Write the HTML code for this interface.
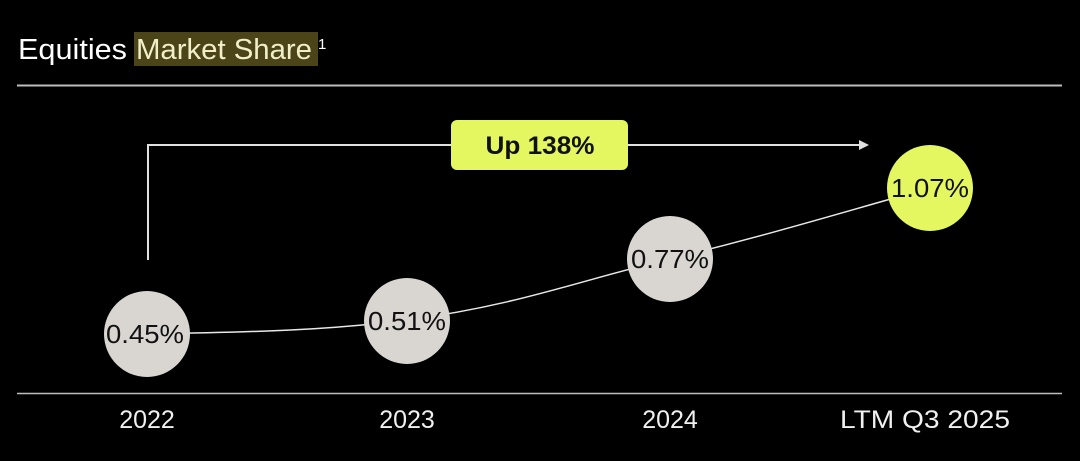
<!DOCTYPE html>
<html><head><style>
body{margin:0;background:#000;width:1080px;height:456px;overflow:hidden;font-family:"Liberation Sans",sans-serif}
</style></head><body>
<svg width="1080" height="456" viewBox="0 0 1080 456" xmlns="http://www.w3.org/2000/svg">
<rect width="1080" height="456" fill="#000"/>
<rect x="134" y="32" width="184" height="34" fill="#4a4418"/>
<text x="18" y="59" font-family="Liberation Sans, sans-serif" font-size="29" fill="#fff" textLength="109" lengthAdjust="spacingAndGlyphs">Equities</text>
<text x="136" y="59" font-family="Liberation Sans, sans-serif" font-size="29" fill="#f2eec8" textLength="176" lengthAdjust="spacingAndGlyphs">Market Share</text>
<text x="318" y="49" font-size="15" fill="#fff">1</text>
<line x1="17" y1="85.5" x2="1062" y2="85.5" stroke="#bdbdbd" stroke-width="2"/>
<line x1="17" y1="393.5" x2="1062" y2="393.5" stroke="#bdbdbd" stroke-width="1.5"/>
<polyline points="148,260 148,145 860,145" fill="none" stroke="#e0e0e0" stroke-width="2"/>
<polygon points="869,145 859,140 859,150" fill="#e0e0e0"/>
<rect x="451" y="120" width="177" height="50" rx="6" fill="#e4f760"/>
<text x="540" y="154" text-anchor="middle" font-size="25" font-weight="bold" fill="#111" textLength="109" lengthAdjust="spacingAndGlyphs">Up 138%</text>
<path d="M147,334 C260,332 330,330 407,320 C520,305 580,280 670,259 C780,232 850,210 930,188" fill="none" stroke="#e8e8e8" stroke-width="1.5"/>
<g font-size="26" fill="#111" text-anchor="middle">
<circle cx="147" cy="334" r="43" fill="#d9d6d2"/><text x="145" y="343" textLength="78" lengthAdjust="spacingAndGlyphs">0.45%</text>
<circle cx="407" cy="321" r="43" fill="#d9d6d2"/><text x="407" y="330" textLength="78" lengthAdjust="spacingAndGlyphs">0.51%</text>
<circle cx="670" cy="259" r="43" fill="#d9d6d2"/><text x="670" y="268" textLength="78" lengthAdjust="spacingAndGlyphs">0.77%</text>
<circle cx="930" cy="188" r="43" fill="#e4f760"/><text x="930" y="197" textLength="78" lengthAdjust="spacingAndGlyphs">1.07%</text>
</g>
<g font-size="25" fill="#f0f0f0" text-anchor="middle">
<text x="147" y="428">2022</text>
<text x="407" y="428">2023</text>
<text x="670" y="428">2024</text>
<text x="925" y="428" textLength="170" lengthAdjust="spacingAndGlyphs">LTM Q3 2025</text>
</g>
</svg>
</body></html>
